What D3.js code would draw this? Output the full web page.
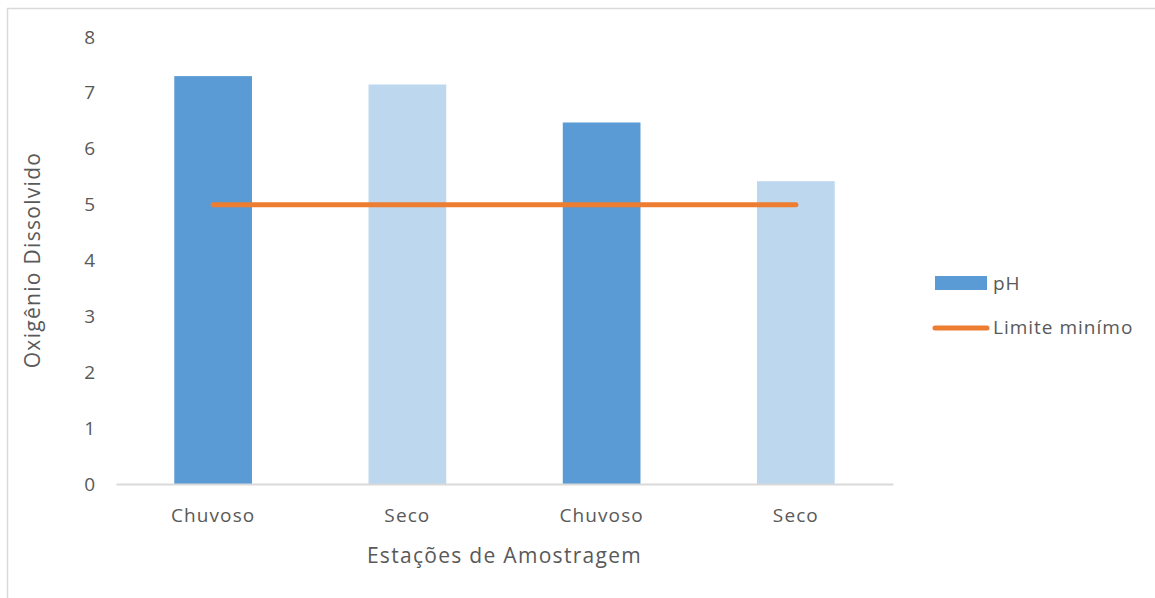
<!DOCTYPE html>
<html>
<head>
<meta charset="utf-8">
<script src="https://cdn.jsdelivr.net/npm/d3@7"></script>
<style>
  body { margin: 0; background: #fff; }
  text { font-family: "Open Sans", Lato, sans-serif; fill: #595959; }
</style>
</head>
<body>
<div class="chart"></div>
<script>
// data
let categories = ["Chuvoso", "Seco", "Chuvoso ", "Seco "]
let categoryLabels = ["Chuvoso", "Seco", "Chuvoso", "Seco"]
let phValues = [7.3, 7.15, 6.47, 5.42]
let limitValues = [5, 5, 5, 5]
let yTicks = [0, 1, 2, 3, 4, 5, 6, 7, 8]
let barColors = ["#5B9BD5", "#BDD7EE", "#5B9BD5", "#BDD7EE"]

let fullWidth = 1155, fullHeight = 598
let margin = { top: 37, left: 116, right: 262, bottom: 114 }
let width = fullWidth - margin.left - margin.right
let height = fullHeight - margin.top - margin.bottom
let font = '"Open Sans", Lato, sans-serif'

let root = d3.select('.chart')
  .append('svg')
    .attr('width', fullWidth)
    .attr('height', fullHeight)

// outer frame (only left/top visible in the picture)
root.append('rect')
  .attr('x', 7.5).attr('y', 8.5)
  .attr('width', 1200).attr('height', 700)
  .style('fill', 'none').style('stroke', '#d9d9d9').style('stroke-width', 1.5)

let svg = root.append('g')
  .attr('transform', `translate(${margin.left}, ${margin.top})`)

let yScale = d3.scaleLinear().domain([0, 8]).range([height, 0])
let xScale = d3.scaleBand().domain(categories).range([0, width]).paddingInner(0.6).paddingOuter(0.3)
let xCenter = d3.scaleBand().domain(categories).range([0, width])

// y axis labels only
let yAxis = d3.axisLeft(yScale).tickValues(yTicks).tickSize(0).tickPadding(21)
svg.append('g').call(yAxis)
  .call(g => g.select('.domain').remove())
  .selectAll('text')
    .style('font-size', '19px')
    .style('fill', '#595959')
    .style('font-family', font)

// bars
svg.selectAll('rect.bar')
  .data(phValues)
  .enter()
  .append('rect')
    .attr('class', 'bar')
    .attr('x', (d, i) => xCenter(categories[i]) + xCenter.bandwidth() / 2 - xScale.bandwidth() / 2)
    .attr('y', d => yScale(d))
    .attr('width', xScale.bandwidth())
    .attr('height', d => height - yScale(d))
    .style('fill', (d, i) => barColors[i])

// x axis
let xAxis = d3.axisBottom(xCenter).tickSize(0).tickPadding(25).tickFormat((d, i) => categoryLabels[i])
svg.append('g')
  .attr('transform', `translate(0, ${height})`)
  .call(xAxis)
  .call(g => g.select('.domain').style('stroke', '#d9d9d9').style('stroke-width', 2))
  .selectAll('text')
    .style('font-size', '19px')
    .style('letter-spacing', '1.1px')
    .style('fill', '#595959')
    .style('font-family', font)

// limit line
let line = d3.line()
  .x((d, i) => xCenter(categories[i]) + xCenter.bandwidth() / 2)
  .y(d => yScale(d))
svg.append('path')
  .datum(limitValues)
  .attr('d', line)
  .style('fill', 'none')
  .style('stroke', '#ED7D31')
  .style('stroke-width', 5)
  .style('stroke-linecap', 'round')

// axis titles
root.append('text')
  .attr('x', margin.left + width / 2)
  .attr('y', 563)
  .attr('text-anchor', 'middle')
  .style('font-size', '21px')
  .style('letter-spacing', '1.3px')
  .text('Estações de Amostragem')

root.append('text')
  .attr('transform', `translate(40, 260) rotate(-90)`)
  .attr('text-anchor', 'middle')
  .style('font-size', '21px')
  .style('letter-spacing', '1.3px')
  .text('Oxigênio Dissolvido')

// legend
let legend = root.append('g').attr('transform', 'translate(935, 276)')
legend.append('rect')
  .attr('width', 52).attr('height', 14)
  .style('fill', '#5B9BD5')
legend.append('text')
  .attr('x', 58).attr('y', 14)
  .style('font-size', '19px')
  .style('letter-spacing', '1px')
  .text('pH')
legend.append('line')
  .attr('x1', 0).attr('x2', 52)
  .attr('y1', 52).attr('y2', 52)
  .style('stroke', '#ED7D31').style('stroke-width', 5).style('stroke-linecap', 'round')
legend.append('text')
  .attr('x', 58).attr('y', 58)
  .style('font-size', '19px')
  .style('letter-spacing', '1px')
  .text('Limite minímo')
</script>
</body>
</html>
